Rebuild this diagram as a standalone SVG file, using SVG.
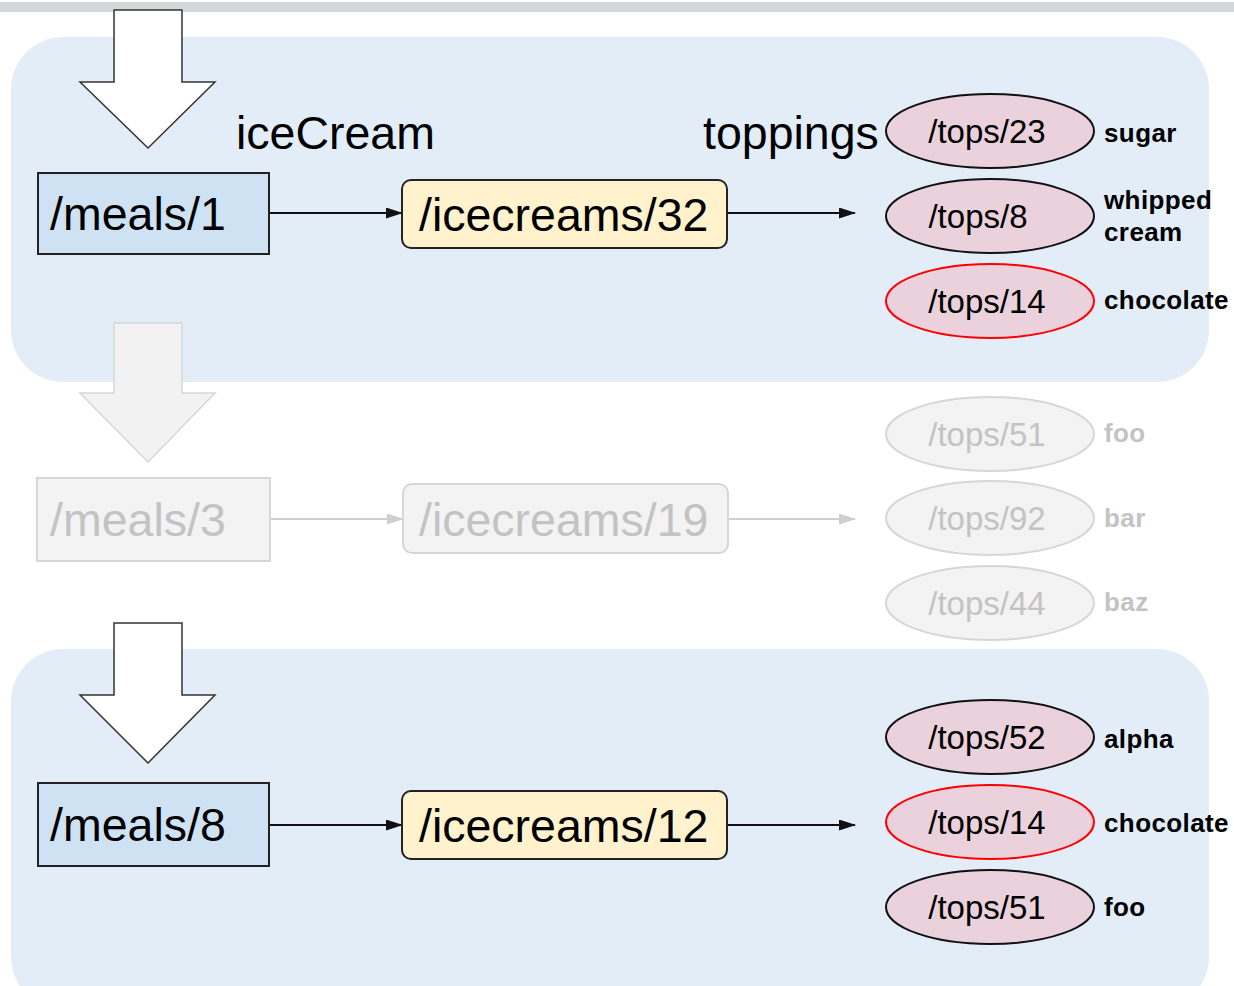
<svg xmlns="http://www.w3.org/2000/svg" width="1234" height="986" viewBox="0 0 1234 986">
<style>
.big{font-family:"Liberation Sans",Arial,sans-serif;font-size:46.5px;fill:#000}
.mid{font-family:"Liberation Sans",Arial,sans-serif;font-size:33px;fill:#000;text-anchor:middle}
.lab{font-family:"Liberation Sans",Arial,sans-serif;font-size:26px;letter-spacing:0.4px;font-weight:bold;fill:#000}
.meal{fill:#cfe2f3;stroke:#222;stroke-width:2}
.ice{fill:#fff2cc;stroke:#222;stroke-width:2}
.top{fill:#ead1dc;stroke:#111;stroke-width:2}
.topr{fill:#ead1dc;stroke:#ff0000;stroke-width:2}
.gbox{fill:#f3f3f3;stroke:#d6d6d6;stroke-width:2}
.gtext{fill:#c3c3c3}
.bigarrow{fill:#fff;stroke:#333;stroke-width:1.5}
.garrow{fill:#f2f2f2;stroke:#d6d6d6;stroke-width:1.5}
.edge{stroke:#111;stroke-width:2;fill:none}
.gedge{stroke:#cfcfcf;stroke-width:2;fill:none}
.panel{fill:#e3edf8}
</style>
<defs>
<marker id="ah" markerWidth="17" markerHeight="11" refX="16" refY="5.5" orient="auto" markerUnits="userSpaceOnUse">
<path d="M0,0 L17,5.5 L0,11 Z" fill="#111"/>
</marker>
<marker id="gah" markerWidth="17" markerHeight="11" refX="16" refY="5.5" orient="auto" markerUnits="userSpaceOnUse">
<path d="M0,0 L17,5.5 L0,11 Z" fill="#cfcfcf"/>
</marker>
</defs>
<rect x="0" y="0" width="1234" height="986" fill="#fff"/>
<rect x="0" y="2" width="1234" height="10" fill="#d4d8da"/>
<g id="panel1"><rect class="panel" x="11" y="37" width="1198" height="345" rx="52"/></g>
<g id="panel2"><rect class="panel" x="11" y="649" width="1198" height="360" rx="52"/></g>

<g id="arrow1"><path class="bigarrow" d="M114,10 L182,10 L182,82 L215,82 L148,148 L80,82 L114,82 Z"/></g>
<g id="arrow2"><path class="garrow" d="M114,323 L182,323 L182,393 L215,393 L148,462 L80,393 L114,393 Z"/></g>
<g id="arrow3"><path class="bigarrow" d="M114,623 L182,623 L182,695 L215,695 L148,763 L80,695 L114,695 Z"/></g>

<g id="labels">
<text class="big" x="236" y="149">iceCream</text>
<text class="big" x="703" y="149">toppings</text>
</g>

<g id="connectors">
<line class="edge" x1="269" y1="213" x2="402" y2="213" marker-end="url(#ah)"/>
<line class="edge" x1="727" y1="213" x2="855" y2="213" marker-end="url(#ah)"/>
<line class="gedge" x1="270" y1="519" x2="403" y2="519" marker-end="url(#gah)"/>
<line class="gedge" x1="728" y1="519" x2="855" y2="519" marker-end="url(#gah)"/>
<line class="edge" x1="269" y1="825" x2="402" y2="825" marker-end="url(#ah)"/>
<line class="edge" x1="727" y1="825" x2="855" y2="825" marker-end="url(#ah)"/>
</g>

<g id="meals1"><rect class="meal" x="38" y="173" width="231" height="81"/><text class="big" x="50" y="230">/meals/1</text></g>
<g id="icecreams32"><rect class="ice" x="402" y="180" width="325" height="68" rx="9"/><text class="big" x="419" y="231">/icecreams/32</text></g>
<g id="tops23"><ellipse class="top" cx="990" cy="131" rx="104" ry="37"/><text class="mid" x="987" y="143">/tops/23</text><text class="lab" x="1104" y="142">sugar</text></g>
<g id="tops8"><ellipse class="top" cx="990" cy="216" rx="104" ry="37"/><text class="mid" x="978" y="228">/tops/8</text><text class="lab" x="1104" y="209">whipped</text><text class="lab" x="1104" y="241">cream</text></g>
<g id="tops14a"><ellipse class="topr" cx="990" cy="301" rx="104" ry="37"/><text class="mid" x="987" y="313">/tops/14</text><text class="lab" x="1104" y="309">chocolate</text></g>

<g id="meals3"><rect class="gbox" x="37" y="478" width="233" height="83"/><text class="big gtext" x="50" y="536">/meals/3</text></g>
<g id="icecreams19"><rect class="gbox" x="403" y="484" width="325" height="69" rx="9"/><text class="big gtext" x="419" y="536">/icecreams/19</text></g>
<g id="tops51g"><ellipse class="gbox" cx="990" cy="434" rx="104" ry="37"/><text class="mid gtext" x="987" y="446">/tops/51</text><text class="lab gtext" x="1104" y="442">foo</text></g>
<g id="tops92"><ellipse class="gbox" cx="990" cy="518" rx="104" ry="37"/><text class="mid gtext" x="987" y="530">/tops/92</text><text class="lab gtext" x="1104" y="527">bar</text></g>
<g id="tops44"><ellipse class="gbox" cx="990" cy="603" rx="104" ry="37"/><text class="mid gtext" x="987" y="615">/tops/44</text><text class="lab gtext" x="1104" y="611">baz</text></g>

<g id="meals8"><rect class="meal" x="38" y="783" width="231" height="83"/><text class="big" x="50" y="841">/meals/8</text></g>
<g id="icecreams12"><rect class="ice" x="402" y="791" width="325" height="68" rx="9"/><text class="big" x="419" y="842">/icecreams/12</text></g>
<g id="tops52"><ellipse class="top" cx="990" cy="737" rx="104" ry="37"/><text class="mid" x="987" y="749">/tops/52</text><text class="lab" x="1104" y="748">alpha</text></g>
<g id="tops14b"><ellipse class="topr" cx="990" cy="822" rx="104" ry="37"/><text class="mid" x="987" y="834">/tops/14</text><text class="lab" x="1104" y="832">chocolate</text></g>
<g id="tops51"><ellipse class="top" cx="990" cy="907" rx="104" ry="37"/><text class="mid" x="987" y="919">/tops/51</text><text class="lab" x="1104" y="916">foo</text></g>
</svg>
